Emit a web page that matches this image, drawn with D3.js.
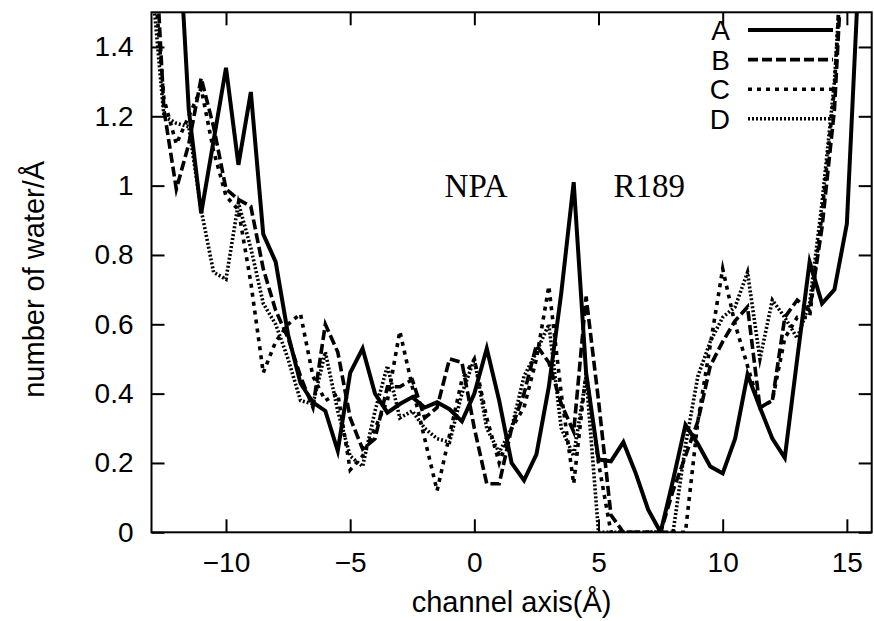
<!DOCTYPE html>
<html>
<head>
<meta charset="utf-8">
<script src="https://cdn.jsdelivr.net/npm/d3@7"></script>
<style>
  body { margin: 0; background: #fff; }
  svg text { font-family: "Liberation Sans", Arial, Helvetica, sans-serif; fill: #000; }
</style>
</head>
<body>
<div id="chart"></div>
<script>
// channel axis positions (Å)
const xs = [-13, -12.5, -12, -11.5, -11, -10.5, -10, -9.5, -9, -8.5, -8, -7.5, -7, -6.5, -6, -5.5,
            -5, -4.5, -4, -3.5, -3, -2.5, -2, -1.5, -1, -0.5, 0, 0.5, 1, 1.5, 2, 2.5, 3, 3.5,
            4, 4.5, 5, 5.5, 6, 6.5, 7, 7.5, 8, 8.5, 9, 9.5, 10, 10.5, 11, 11.5, 12, 12.5, 13,
            13.5, 14, 14.5, 15, 15.5, 16];

// number of water per Å, one array per run
const seriesA = [3.2, 2.5, 1.86, 1.22, 0.92, 1.13, 1.34, 1.06, 1.27, 0.86, 0.78, 0.57, 0.43, 0.375,
                 0.35, 0.235, 0.46, 0.53, 0.40, 0.345, 0.37, 0.39, 0.36, 0.375, 0.355, 0.32, 0.40,
                 0.53, 0.38, 0.20, 0.15, 0.225, 0.42, 0.69, 1.01, 0.46, 0.21, 0.205, 0.26, 0.17,
                 0.065, 0.0, 0.15, 0.31, 0.255, 0.19, 0.17, 0.27, 0.455, 0.36, 0.27, 0.215, 0.50,
                 0.78, 0.66, 0.70, 0.89, 1.65, 2.6];
const seriesB = [1.9, 1.22, 0.99, 1.12, 1.31, 1.17, 0.99, 0.96, 0.94, 0.76, 0.64, 0.56, 0.45, 0.36,
                 0.60, 0.52, 0.33, 0.24, 0.27, 0.42, 0.42, 0.44, 0.33, 0.36, 0.50, 0.49, 0.30,
                 0.14, 0.14, 0.30, 0.40, 0.54, 0.49, 0.37, 0.29, 0.68, 0.38, 0.05, 0.0, 0.0, 0.0,
                 0.0, 0.12, 0.22, 0.32, 0.48, 0.55, 0.61, 0.65, 0.36, 0.38, 0.62, 0.67, 0.64,
                 0.88, 1.22, 1.9, 2.6, 3.2];
const seriesC = [1.7, 1.25, 1.12, 1.2, 1.28, 1.1, 0.97, 0.93, 0.72, 0.46, 0.55, 0.60, 0.63, 0.45,
                 0.38, 0.40, 0.18, 0.22, 0.30, 0.38, 0.58, 0.42, 0.27, 0.12, 0.28, 0.44, 0.50,
                 0.33, 0.20, 0.30, 0.36, 0.50, 0.71, 0.40, 0.14, 0.46, 0.20, 0.0, 0.0, 0.0, 0.0,
                 0.0, 0.0, 0.0, 0.32, 0.54, 0.76, 0.60, 0.48, 0.36, 0.38, 0.56, 0.62, 0.62,
                 0.92, 1.28, 1.95, 2.7, 3.3];
const seriesD = [1.6, 1.2, 1.18, 1.17, 0.93, 0.75, 0.73, 0.95, 0.82, 0.66, 0.60, 0.50, 0.38, 0.37,
                 0.52, 0.35, 0.22, 0.19, 0.35, 0.48, 0.33, 0.35, 0.30, 0.27, 0.26, 0.40, 0.50,
                 0.30, 0.23, 0.30, 0.45, 0.52, 0.60, 0.30, 0.22, 0.45, 0.0, 0.0, 0.0, 0.0, 0.0,
                 0.0, 0.0, 0.25, 0.45, 0.55, 0.62, 0.65, 0.75, 0.50, 0.67, 0.62, 0.56, 0.66,
                 0.95, 1.3, 1.9, 2.6, 3.2];

const seriesNames = ['A', 'B', 'C', 'D'];
const xTicks = [-10, -5, 0, 5, 10, 15];
const yTicks = [0, 0.2, 0.4, 0.6, 0.8, 1, 1.2, 1.4];
const notes = [{text: 'NPA', x: -1.2}, {text: 'R189', x: 5.6}];

const width = 874, height = 621;
const margin = {left: 151.5, right: 2.3, top: 12.3, bottom: 88.7};
const fontSize = 28;
const titleSize = 29;
const dashes = {A: null, B: '10,4', C: '4,5', D: '2,2'};

const svg = d3.select('#chart').append('svg')
    .attr('width', width)
    .attr('height', height);

const x = d3.scaleLinear([-13, 16], [margin.left, width - margin.right]);
const y = d3.scaleLinear([0, 1.5], [height - margin.bottom, margin.top]);
const fmt = d3.format('');

// clip for the curves
svg.append('clipPath').attr('id', 'plot-clip')
  .append('rect')
    .attr('x', x.range()[0]).attr('y', y.range()[1])
    .attr('width', x.range()[1] - x.range()[0])
    .attr('height', y.range()[0] - y.range()[1]);

// axes, gnuplot style: inner ticks on all four sides
function styleAxis(g){
    g.select('.domain').remove();
    g.selectAll('.tick line').attr('stroke', '#000').attr('stroke-width', 2);
    g.selectAll('text').attr('font-size', fontSize).attr('font-family', null);
}
svg.append('g')
    .attr('transform', `translate(0,${y(0)})`)
    .call(d3.axisBottom(x).tickValues(xTicks).tickSize(-13).tickPadding(20).tickFormat(fmt))
    .call(styleAxis);
svg.append('g')
    .attr('transform', `translate(0,${y(1.5)})`)
    .call(d3.axisTop(x).tickValues(xTicks).tickSize(-13).tickFormat(''))
    .call(styleAxis);
svg.append('g')
    .attr('transform', `translate(${x(-13)},0)`)
    .call(d3.axisLeft(y).tickValues(yTicks).tickSize(-13).tickPadding(18).tickFormat(fmt))
    .call(styleAxis);
svg.append('g')
    .attr('transform', `translate(${x(16)},0)`)
    .call(d3.axisRight(y).tickValues(yTicks).tickSize(-13).tickFormat(''))
    .call(styleAxis);

// curves
const line = d3.line()
    .x((d, i) => x(xs[i]))
    .y(d => y(d));
const allSeries = [seriesA, seriesB, seriesC, seriesD];

svg.append('g').attr('clip-path', 'url(#plot-clip)')
  .selectAll('path.run')
  .data(allSeries)
  .join('path')
    .classed('run', true)
    .attr('d', line)
    .attr('fill', 'none')
    .attr('stroke', '#000')
    .attr('stroke-width', (d, i) => i === 0 ? 4 : 3.6)
    .attr('stroke-linejoin', 'miter')
    .attr('stroke-miterlimit', 6)
    .attr('stroke-dasharray', (d, i) => dashes[seriesNames[i]]);

// frame
svg.append('rect')
    .attr('x', x.range()[0]).attr('y', y.range()[1])
    .attr('width', x.range()[1] - x.range()[0])
    .attr('height', y.range()[0] - y.range()[1])
    .attr('fill', 'none')
    .attr('stroke', '#000')
    .attr('stroke-width', 2);

// legend
const legend = svg.append('g').selectAll('g.key')
    .data(seriesNames)
    .join('g')
    .classed('key', true)
    .attr('transform', (d, i) => `translate(0,${30 + i * 29.6})`);
legend.append('text')
    .attr('x', 730)
    .attr('dy', '0.36em')
    .attr('text-anchor', 'end')
    .attr('font-size', fontSize)
    .text(d => d);
legend.append('line')
    .attr('x1', 748).attr('x2', 833)
    .attr('stroke', '#000')
    .attr('stroke-width', (d, i) => i === 0 ? 4 : 3.6)
    .attr('stroke-dasharray', d => dashes[d]);

// residue labels
svg.selectAll('text.note')
    .data(notes)
    .join('text')
    .classed('note', true)
    .attr('x', d => x(d.x))
    .attr('y', 197)
    .attr('font-size', 33)
    .style('font-family', '"Liberation Serif", "Times New Roman", serif')
    .text(d => d.text);

// axis titles
svg.append('text')
    .attr('x', (x.range()[0] + x.range()[1]) / 2)
    .attr('y', 612)
    .attr('text-anchor', 'middle')
    .attr('font-size', titleSize)
    .text('channel axis(Å)');
svg.append('text')
    .attr('transform', `translate(44,${(y.range()[0] + y.range()[1]) / 2 + 7}) rotate(-90)`)
    .attr('text-anchor', 'middle')
    .attr('font-size', titleSize)
    .text('number of water/Å');
</script>
</body>
</html>
